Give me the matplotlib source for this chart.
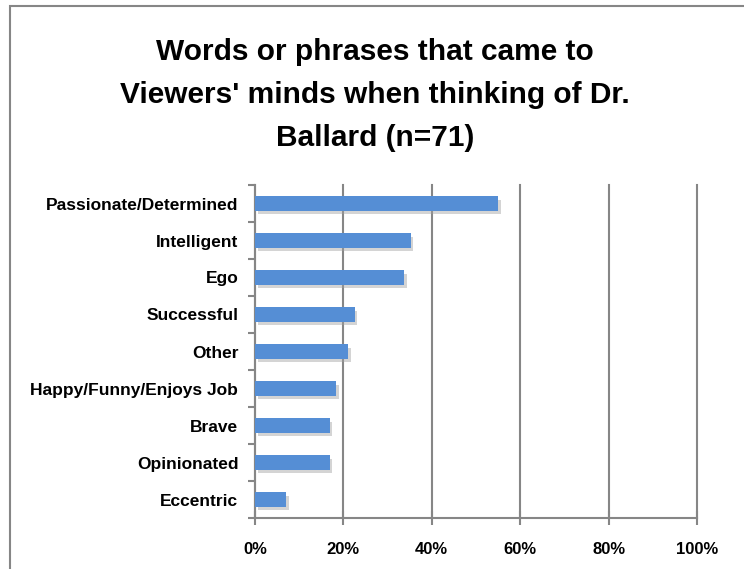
import matplotlib.pyplot as plt
import matplotlib.patheffects as pe
from matplotlib.patches import Rectangle
from matplotlib.ticker import FixedLocator, PercentFormatter

plt.rcParams['font.family'] = ['Liberation Sans', 'DejaVu Sans']

categories = ['Passionate/Determined', 'Intelligent', 'Ego', 'Successful', 'Other',
              'Happy/Funny/Enjoys Job', 'Brave', 'Opinionated', 'Eccentric']
counts = [39, 25, 24, 16, 15, 13, 12, 12, 5]
n_resp = 71
shares = [c / n_resp for c in counts]

grey = '#868686'
blue = '#558ED5'

fig = plt.figure(figsize=(7.44, 5.69), dpi=100)
fig.patches.append(Rectangle((10 / 744, -0.1), 1.2, 1 - 6 / 569 + 0.1,
                             transform=fig.transFigure, fill=False,
                             edgecolor=grey, linewidth=1.5))

ax = fig.add_axes([255 / 744, 51 / 569, 442 / 744, 333 / 569])
ypos = list(range(len(categories)))[::-1]
bars = ax.barh(ypos, shares, height=0.4, color=blue, zorder=3)
for b in bars:
    b.set_path_effects([pe.SimplePatchShadow(offset=(2, -2.5), shadow_rgbFace='#a0a0a0', alpha=0.45),
                        pe.Normal()])

ax.set_xlim(0, 1)
ax.set_ylim(-0.5, len(categories) - 0.5)
ax.xaxis.set_major_locator(FixedLocator([0, 0.2, 0.4, 0.6, 0.8, 1.0]))
ax.xaxis.set_major_formatter(PercentFormatter(1.0, decimals=0))
ax.grid(axis='x', color=grey, linewidth=1.5, zorder=0)
for gl in ax.get_xgridlines():
    gl.set_clip_on(False)
ax.set_yticks(ypos)
ax.set_yticklabels(categories)
ax.yaxis.set_minor_locator(FixedLocator([i - 0.5 for i in range(len(categories) + 1)]))
ax.tick_params(axis='y', which='major', length=0, pad=12)
ax.tick_params(axis='y', which='minor', length=5, color=grey, width=1.5)
ax.tick_params(axis='x', direction='inout', length=10, color=grey, width=1.5, pad=12)
for lbl in ax.get_yticklabels():
    lbl.set_fontweight('bold')
    lbl.set_fontsize(12.5)
for lbl in ax.get_xticklabels():
    lbl.set_fontweight('bold')
    lbl.set_fontsize(12)

for side in ['top', 'right']:
    ax.spines[side].set_visible(False)
for side in ['left', 'bottom']:
    ax.spines[side].set_color(grey)
    ax.spines[side].set_linewidth(1.5)

fig.text(375 / 744, 1 - 95 / 569,
         "Words or phrases that came to\nViewers' minds when thinking of Dr.\nBallard (n=71)",
         ha='center', va='center', fontsize=21.5, fontweight='bold', linespacing=1.68)

fig.savefig('out.png', dpi=100)
